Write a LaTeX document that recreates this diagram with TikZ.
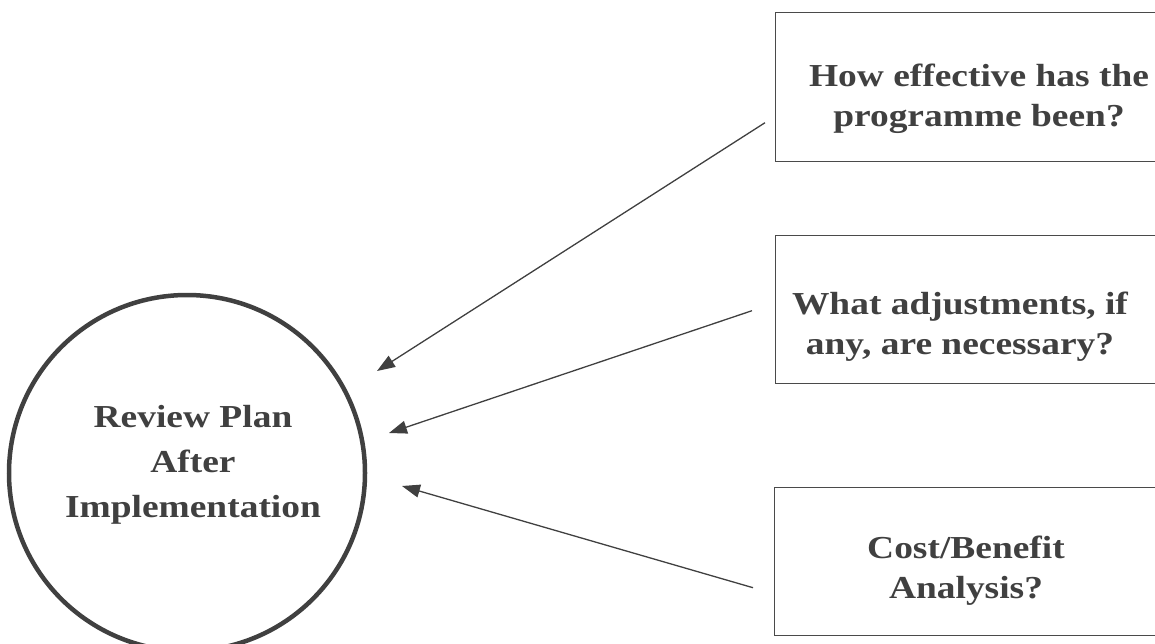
\documentclass[tikz,border=0pt]{standalone}
\usepackage{fontspec}
\setmainfont{Liberation Serif}[FakeStretch=1.17]
\usetikzlibrary{arrows.meta,calc}
\definecolor{ink}{HTML}{404040}
\definecolor{edge}{HTML}{4a4a4a}
\begin{document}
\begin{tikzpicture}[x=1pt,y=-1pt,
  qbox/.style={draw=edge, line width=1.4pt, rectangle, inner sep=0pt,
    minimum width=385pt, anchor=north west},
  lbl/.style={text=ink, font=\fontsize{32}{40}\selectfont\bfseries, align=center, inner sep=0pt},
  clbl/.style={text=ink, font=\fontsize{32}{45}\selectfont\bfseries, align=center, inner sep=0pt},
  arr/.style={draw=ink, line width=1.3pt, -{Triangle[length=18pt,width=13pt]}}]
\useasboundingbox (0,0) rectangle (1155,643);
\clip (0,0) rectangle (1155,643);
% circle
\node[draw=ink, line width=4.5pt, circle, minimum size=356pt, inner sep=0pt] (plan) at (187,473) {};
\node[clbl] (plantext) at (193,465) {Review Plan\\After\\Implementation};
% boxes
\node[qbox, minimum height=149pt] (b1) at (775,12) {};
\node[qbox, minimum height=148pt] (b2) at (775,235) {};
\node[qbox, minimum height=148pt] (b3) at (774,487) {};
\node[lbl] (t1text) at (979,99) {How effective has the\\programme been?};
\node[lbl] (t2text) at (960,327) {What adjustments, if\\any, are necessary?};
\node[lbl] (t3text) at (966,571) {Cost/Benefit\\Analysis?};
% arrow ends
\coordinate (s1) at ($(b1.west)+(-10,35.5)$);
\coordinate (s2) at ($(b2.west)+(-23,1)$);
\coordinate (s3) at ($(b3.west)+(-21,26)$);
\coordinate (e1) at (377,371);
\coordinate (e2) at (389,433);
\coordinate (e3) at (402,486);
\draw[arr] (s1) -- (e1);
\draw[arr] (s2) -- (e2);
\draw[arr] (s3) -- (e3);
\end{tikzpicture}
\end{document}
